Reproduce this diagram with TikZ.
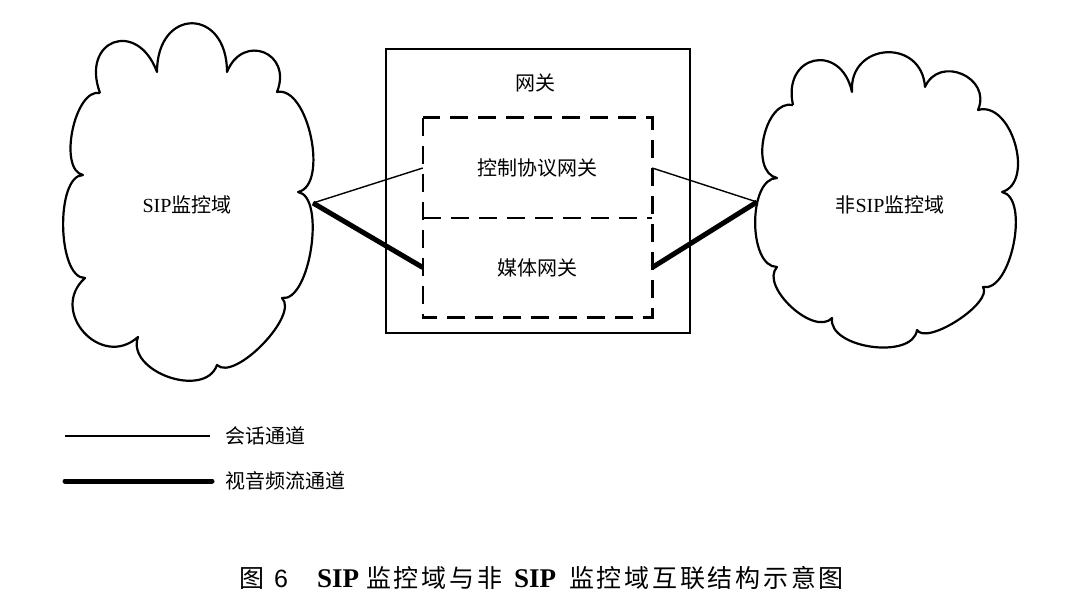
\documentclass[tikz,border=0pt]{standalone}
\usepackage{fontspec}
\setmainfont{Liberation Serif}
\setsansfont{Liberation Sans}
\newfontfamily\cjk{Noto Sans CJK SC}
\newfontfamily\cjkcap[LetterSpace=11]{Noto Sans CJK SC}
\begin{document}
\begin{tikzpicture}[x=1pt,y=-1pt,
  cloudline/.style={line width=2.2pt,line join=round},
  lbl/.style={font=\fontsize{20}{23}\selectfont,inner sep=0pt},
  thinconn/.style={line width=1.4pt},
  thickconn/.style={line width=5pt},
  dashbox/.style={line width=2.6pt,dash pattern=on 18pt off 10pt},
  part/.style={minimum width=229pt,inner sep=0pt,font=\fontsize{20}{23}\selectfont}
]
\useasboundingbox (0,0) rectangle (1091,612);
% left cloud
\draw[cloudline] (100,93) to[bend left=90,looseness=2.4] (157,72)
  to[bend left=90,looseness=2.38] (227,72)
  to[bend left=90,looseness=2.02] (277,92)
  to[bend left=90,looseness=0.8] (298,192)
  to[bend left=90,looseness=0.68] (282,298)
  to[bend left=90,looseness=0.67] (217,365)
  to[bend left=90,looseness=1.12] (138,337)
  to[bend left=90,looseness=1.6] (85,278)
  to[bend left=90,looseness=0.69] (83,175)
  to[bend left=90,looseness=0.79] (100,93);
% right cloud
\draw[cloudline] (793,105) to[bend left=90,looseness=2.18] (852,92)
  to[bend left=90,looseness=1.74] (925,87)
  to[bend left=90,looseness=1.57] (978,110)
  to[bend left=90,looseness=1.04] (1002,192)
  to[bend left=90,looseness=0.76] (983,287)
  to[bend left=90,looseness=0.61] (917,330)
  to[bend left=90,looseness=0.91] (832,318)
  to[bend left=90,looseness=0.89] (777,267)
  to[bend left=90,looseness=0.84] (777,178)
  to[bend left=90,looseness=0.99] (793,105);
\node[lbl] (sipd) at (187,205) {SIP{\cjk 监控域}};
\node[lbl] (nsipd) at (890,205) {{\cjk 非}SIP{\cjk 监控域}};
\coordinate (lp) at (313,203);
\coordinate (rp) at (757,202);
% gateway
\node[draw,line width=2.5pt,minimum width=304pt,minimum height=284pt,inner sep=0pt] (gw) at (538,191) {};
\node[lbl] (gwl) at (535,83) {\cjk 网关};
\node[part,minimum height=100pt] (ctrl) at (537.5,168) {\cjk 控制协议网关};
\node[part,minimum height=99pt] (media) at (537.5,267.5) {\cjk 媒体网关};
\draw[dashbox] (ctrl.north west) rectangle (media.south east);
\draw[dashbox] (ctrl.south west) -- (ctrl.south east);
% connectors
\draw[thinconn] (lp) -- (ctrl.west);
\draw[thickconn] (lp) -- (media.west);
\draw[thinconn] (ctrl.east) -- (rp);
\draw[thickconn] (media.east) -- (rp);
% legend
\coordinate (l1a) at (65,436);
\coordinate (l1b) at (210,436);
\coordinate (l2a) at (65,481);
\coordinate (l2b) at (212,481);
\draw[thinconn] (l1a) -- (l1b);
\draw[thickconn,line cap=round] (l2a) -- (l2b);
\node[lbl,anchor=west] (leg1) at (225,436) {\cjk 会话通道};
\node[lbl,anchor=west] (leg2) at (225,481) {\cjk 视音频流通道};
% caption
\node[inner sep=0pt,anchor=west,font=\fontsize{25}{28}\selectfont] (cap) at (239,578)
  {{\cjkcap 图}\hspace{10pt}{\sffamily 6}\hspace{29pt}{\fontsize{27}{28}\selectfont\bfseries SIP}\hspace{7pt}{\cjkcap 监控域与非}\hspace{12pt}{\fontsize{27}{28}\selectfont\bfseries SIP}\hspace{13pt}{\cjkcap 监控域互联结构示意图}};
\end{tikzpicture}
\end{document}
